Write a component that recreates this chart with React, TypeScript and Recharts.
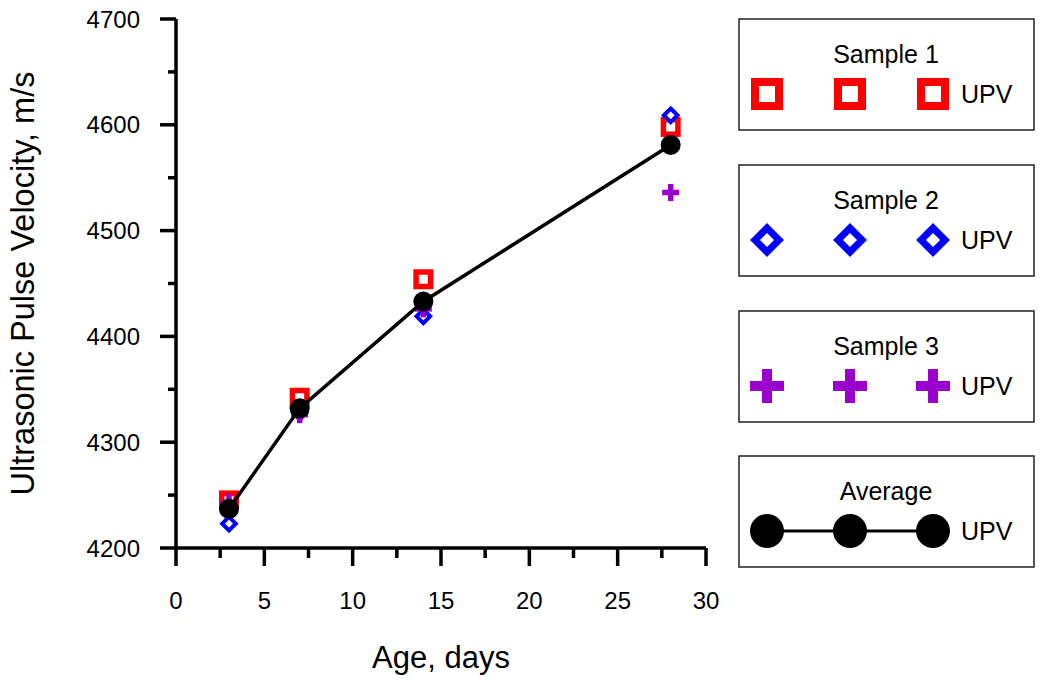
import { ComposedChart, Scatter, XAxis, YAxis } from "recharts";

// Age (days) at which UPV was measured
const ages = [3, 7, 14, 28];
const sample1 = [4245, 4342, 4454, 4598];
const sample2 = [4223, 4328, 4419, 4609];
const sample3 = [4243, 4326, 4426, 4536];
const average = [4237, 4332, 4433, 4581];

const xTicks = [0, 2.5, 5, 7.5, 10, 12.5, 15, 17.5, 20, 22.5, 25, 27.5, 30];
const xMajorTicks = [0, 5, 10, 15, 20, 25, 30];
const yTicks = [4200, 4250, 4300, 4350, 4400, 4450, 4500, 4550, 4600, 4650, 4700];
const yMajorTicks = [4200, 4300, 4400, 4500, 4600, 4700];

const legendTitles = ["Sample 1", "Sample 2", "Sample 3", "Average"];
const legendLabel = "UPV";

const FONT = "'Liberation Sans', Arial, sans-serif";
const RED = "#ff0000";
const BLUE = "#0000ff";
const PURPLE = "#9900cc";
const AXIS_W = 3.5;

const toPoints = (values: number[]) => ages.map((age, i) => ({ age, upv: values[i] }));

type Kind = "square" | "diamond" | "plus" | "circle";

function Marker({ kind, cx, cy, big }: { kind: Kind; cx: number; cy: number; big?: boolean }) {
  if (kind === "square") {
    const s = big ? 32 : 20;
    const w = big ? 8 : 5.5;
    const inner = s - w;
    return (
      <rect x={cx - inner / 2} y={cy - inner / 2} width={inner} height={inner} fill="#fff" stroke={RED} strokeWidth={w} />
    );
  }
  if (kind === "diamond") {
    const r = big ? 12 : 6.8;
    const w = big ? 7 : 4;
    return (
      <polygon
        points={`${cx},${cy - r} ${cx + r},${cy} ${cx},${cy + r} ${cx - r},${cy}`}
        fill="#fff"
        stroke={BLUE}
        strokeWidth={w}
      />
    );
  }
  if (kind === "plus") {
    const s = big ? 34 : 17;
    const t = big ? 10 : 5.5;
    return (
      <g fill={PURPLE}>
        <rect x={cx - s / 2} y={cy - t / 2} width={s} height={t} />
        <rect x={cx - t / 2} y={cy - s / 2} width={t} height={s} />
      </g>
    );
  }
  return <circle cx={cx} cy={cy} r={big ? 17 : 10} fill="#000" />;
}

const shapeOf = (kind: Kind) => (props: any) => <Marker kind={kind} cx={props.cx} cy={props.cy} />;

function XTick({ x, y, payload }: any) {
  const major = xMajorTicks.includes(payload.value);
  return (
    <g>
      <line x1={x} x2={x} y1={y} y2={y + (major ? 18 : 10)} stroke="#000" strokeWidth={AXIS_W} />
      {major && (
        <text x={x} y={y + 61} textAnchor="middle" fontSize={24} fontFamily={FONT} fill="#000">
          {payload.value}
        </text>
      )}
    </g>
  );
}

function YTick({ x, y, payload }: any) {
  const major = yMajorTicks.includes(payload.value);
  return (
    <g>
      <line x1={x - (major ? 16 : 8)} x2={x} y1={y} y2={y} stroke="#000" strokeWidth={AXIS_W} />
      {major && (
        <text x={x - 36} y={y + 8.5} textAnchor="end" fontSize={24} fontFamily={FONT} fill="#000">
          {payload.value}
        </text>
      )}
    </g>
  );
}

function YTitle({ viewBox }: any) {
  const cy = viewBox.y + viewBox.height / 2;
  return (
    <text
      x={34}
      y={cy}
      transform={`rotate(-90 34 ${cy})`}
      textAnchor="middle"
      fontSize={32.5}
      fontFamily={FONT}
      fill="#000"
    >
      Ultrasonic Pulse Velocity, m/s
    </text>
  );
}

function XTitle({ viewBox }: any) {
  const cx = viewBox.x + viewBox.width / 2;
  return (
    <text x={cx} y={668} textAnchor="middle" fontSize={31} fontFamily={FONT} fill="#000">
      Age, days
    </text>
  );
}

const legendKinds: Kind[] = ["square", "diamond", "plus", "circle"];
const legendTops = [19, 165, 311, 456];

function LegendBoxes() {
  return (
    <svg width={301} height={686} style={{ position: "absolute", left: 736, top: 0 }}>
      {legendTitles.map((title, i) => {
        const top = legendTops[i];
        const kind = legendKinds[i];
        const my = top + 75;
        const xs = [31, 114, 197];
        return (
          <g key={title}>
            <rect x={3} y={top} width={295} height={111} fill="#fff" stroke="#222" strokeWidth={1.5} />
            <text x={150} y={top + 44} textAnchor="middle" fontSize={25} fontFamily={FONT} fill="#000">
              {title}
            </text>
            {kind === "circle" && <line x1={xs[0]} x2={xs[2]} y1={my} y2={my} stroke="#000" strokeWidth={3} />}
            {xs.map((mx) => (
              <Marker key={mx} kind={kind} cx={mx} cy={my} big />
            ))}
            <text x={225} y={my + 9} fontSize={25} fontFamily={FONT} fill="#000">
              {legendLabel}
            </text>
          </g>
        );
      })}
    </svg>
  );
}

export default function App() {
  return (
    <div style={{ position: "fixed", left: 0, top: 0, width: 1040, height: 686, background: "#fff" }}>
      <ComposedChart width={720} height={686} margin={{ top: 19, right: 14, bottom: 0, left: 0 }}>
        <XAxis
          dataKey="age"
          type="number"
          domain={[0, 30]}
          ticks={xTicks}
          interval={0}
          tick={<XTick />}
          tickLine={false}
          tickSize={0}
          tickMargin={0}
          height={138}
          axisLine={{ stroke: "#000", strokeWidth: AXIS_W }}
          label={<XTitle />}
        />
        <XAxis
          xAxisId="top"
          orientation="top"
          type="number"
          domain={[0, 30]}
          height={0}
          tick={false}
          tickLine={false}
          axisLine={{ stroke: "#000", strokeWidth: AXIS_W }}
        />
        <YAxis
          dataKey="upv"
          type="number"
          domain={[4200, 4700]}
          ticks={yTicks}
          interval={0}
          tick={<YTick />}
          tickLine={false}
          tickSize={0}
          tickMargin={0}
          width={176}
          axisLine={{ stroke: "#000", strokeWidth: AXIS_W }}
          label={<YTitle />}
        />
        <YAxis
          yAxisId="right"
          orientation="right"
          type="number"
          domain={[4200, 4700]}
          width={0}
          tick={false}
          tickLine={false}
          axisLine={{ stroke: "#000", strokeWidth: AXIS_W }}
        />
        <Scatter data={toPoints(sample1)} shape={shapeOf("square")} isAnimationActive={false} />
        <Scatter data={toPoints(sample2)} shape={shapeOf("diamond")} isAnimationActive={false} />
        <Scatter data={toPoints(sample3)} shape={shapeOf("plus")} isAnimationActive={false} />
        <Scatter
          data={toPoints(average)}
          shape={shapeOf("circle")}
          line={{ stroke: "#000", strokeWidth: 3.5 }}
          lineType="joint"
          isAnimationActive={false}
        />
      </ComposedChart>
      <LegendBoxes />
    </div>
  );
}
